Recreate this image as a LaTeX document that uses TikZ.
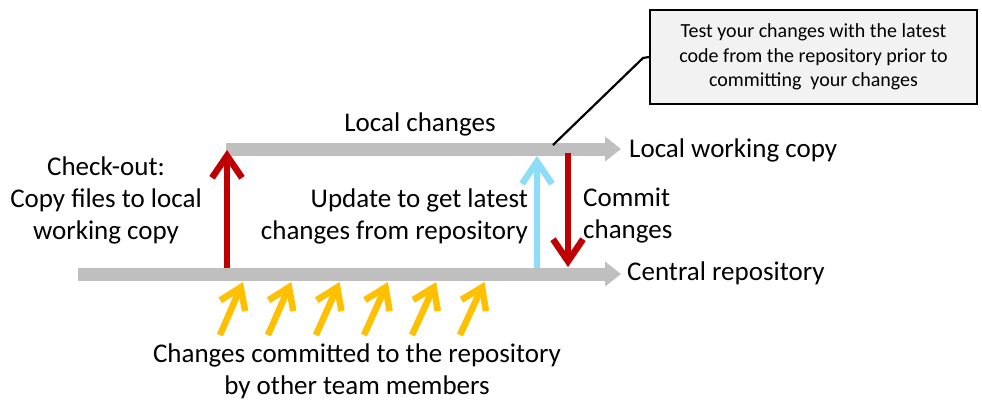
\documentclass[tikz,border=0pt]{standalone}
\usepackage{fontspec}
\setmainfont{Carlito}
\usetikzlibrary{arrows.meta}
\definecolor{bargray}{HTML}{BFBFBF}
\definecolor{darkred}{HTML}{C00000}
\definecolor{lightblue}{HTML}{8DDCF8}
\definecolor{amber}{HTML}{FFC000}
\definecolor{boxgray}{HTML}{F2F2F2}
\tikzset{
  bar/.style={draw=bargray, line width=13pt, -{Triangle[length=16pt,width=24pt]}},
  flow/.style={line width=6.5pt, -{Straight Barb[length=22pt,width=30pt,line width=6.5pt]}},
  team/.style={draw=amber, line width=6.5pt, -{Straight Barb[length=20pt,width=27pt,line width=6.5pt]}},
  lbl/.style={font=\fontsize{27}{32}\selectfont, inner sep=0pt},
  callout/.style={draw=black, line width=2.2pt, fill=boxgray, align=center,
     minimum width=327pt, minimum height=94pt, font=\fontsize{20}{24.5}\selectfont}
}
\begin{document}
\begin{tikzpicture}[x=1pt,y=-1pt]
\useasboundingbox (0,0) rectangle (982,400);
% bars
\coordinate (topL) at (226,149);
\coordinate (topR) at (621,149);
\coordinate (botL) at (78,274);
\coordinate (botR) at (621,274);
\draw[bar] (topL) -- (topR);
\draw[bar] (botL) -- (botR);
% vertical arrows
\coordinate (coA) at (227,268);
\coordinate (coB) at (227,150);
\draw[flow, draw=darkred] (coA) -- (coB);
\coordinate (upA) at (537,268);
\coordinate (upB) at (537,156);
\draw[flow, draw=lightblue] (upA) -- (upB);
\coordinate (cmA) at (568,153);
\coordinate (cmB) at (568,267);
\draw[flow, draw=darkred] (cmA) -- (cmB);
% team arrows
\foreach \i in {0,...,5}{
  \coordinate (ta\i) at ({220+48*\i},335);
  \coordinate (tb\i) at ({243+48.3*\i},282);
  \draw[team] (ta\i) -- (tb\i);
}
% labels
\node[lbl] (loc) at (420,124) {Local changes};
\node[lbl, anchor=west] (lwc) at (629,150) {Local working copy};
\node[lbl, anchor=west] (cr) at (627,273) {Central repository};
\node[lbl, align=center] (co) at (106,200) {Check-out:\\Copy files to local\\working copy};
\node[lbl, align=right, anchor=east] (upd) at (528,216) {Update to get latest\\changes from repository};
\node[lbl, align=left, anchor=west] (cm) at (583,216) {Commit\\changes};
\node[lbl, align=center] (oth) at (357,371) {Changes committed to the repository\\by other team members};
% callout
\node[callout] (box) at (813.5,57) {Test your changes with the latest\\code from the repository prior to\\committing\ \ your changes};
\coordinate (cl) at (553,145);
\draw[line width=2.2pt] (cl) -- (643,58) -- (box.west);
\end{tikzpicture}
\end{document}
